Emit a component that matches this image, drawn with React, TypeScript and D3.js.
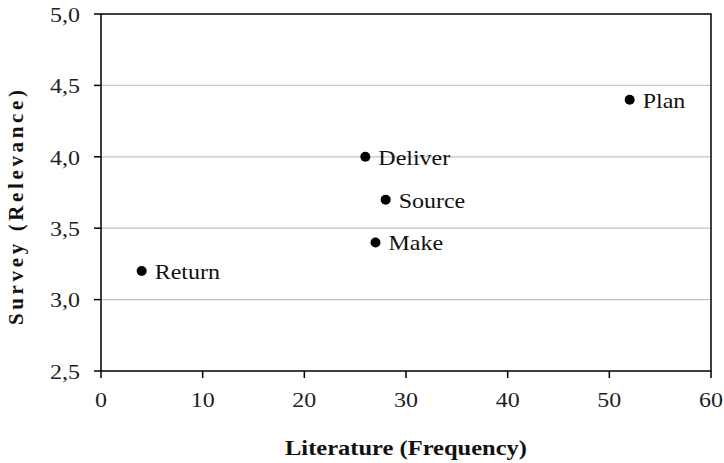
import React from "react";
import * as d3 from "d3";

const names = ["Plan", "Deliver", "Source", "Make", "Return"];
const literature = [52, 26, 28, 27, 4];
const survey = [4.4, 4.0, 3.7, 3.4, 3.2];
const xTicks = [0, 10, 20, 30, 40, 50, 60];
const yTicks = [2.5, 3.0, 3.5, 4.0, 4.5, 5.0];

export default function App() {
  const W = 724, H = 463;
  const left = 101, right = 711, top = 14, bottom = 371;
  const sx = 1.09;
  const x = d3.scaleLinear().domain([0, 60]).range([left, right]);
  const y = d3.scaleLinear().domain([2.5, 5.0]).range([bottom, top]);
  const font = "'Liberation Serif', 'Times New Roman', serif";
  const fmt = (v: number) => v.toFixed(1).replace(".", ",");
  return (
    <svg width={W} height={H} style={{ position: "absolute", left: 0, top: 0, background: "#fff" }} fontFamily={font}>
      {yTicks.slice(1, -1).map((t) => (
        <line key={"g" + t} x1={left} x2={right} y1={y(t)} y2={y(t)} stroke="#c3c3c3" strokeWidth={1.2} />
      ))}
      <rect x={left} y={top} width={right - left} height={bottom - top} fill="none" stroke="#000" strokeWidth={1.5} />
      {yTicks.map((t) => (
        <g key={"y" + t}>
          <line x1={left - 7} x2={left} y1={y(t)} y2={y(t)} stroke="#000" strokeWidth={1.5} />
          <text transform={`translate(80, ${y(t)}) scale(${sx}, 1)`} dy="0.35em" textAnchor="end" fontSize={22} fill="#222">{fmt(t)}</text>
        </g>
      ))}
      {xTicks.map((t) => (
        <g key={"x" + t}>
          <line x1={x(t)} x2={x(t)} y1={bottom} y2={bottom + 7} stroke="#000" strokeWidth={1.5} />
          <text transform={`translate(${x(t)}, ${bottom + 36}) scale(${sx}, 1)`} textAnchor="middle" fontSize={22} fill="#222">{t}</text>
        </g>
      ))}
      <text x={285} y={455} fontSize={22} fontWeight="bold" fill="#111" textLength={242} lengthAdjust="spacingAndGlyphs">Literature (Frequency)</text>
      <text transform={`translate(23, 325) rotate(-90)`} fontSize={21} fontWeight="bold" fill="#111" textLength={235} lengthAdjust="spacing">Survey (Relevance)</text>
      {names.map((n, i) => (
        <g key={n}>
          <circle cx={x(literature[i])} cy={y(survey[i])} r={5} fill="#000" />
          <text transform={`translate(${x(literature[i]) + 13}, ${y(survey[i]) + 8}) scale(${sx}, 1)`} fontSize={22} fill="#111">{n}</text>
        </g>
      ))}
    </svg>
  );
}
